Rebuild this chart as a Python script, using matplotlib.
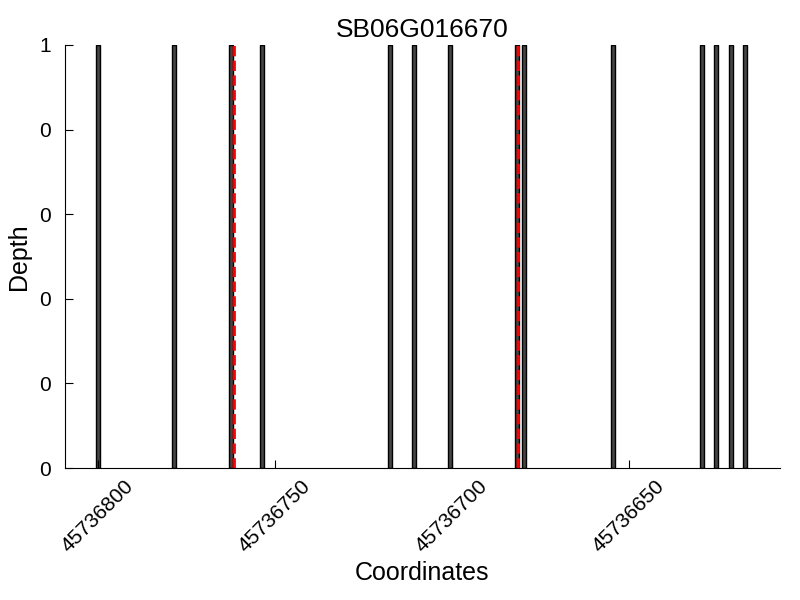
import numpy as np
import matplotlib
matplotlib.use("Agg")
import matplotlib.pyplot as plt
from matplotlib.ticker import FormatStrFormatter

plt.rcParams['font.family'] = ['Liberation Sans', 'DejaVu Sans']

# read positions (bp) of covered sites, all depth 1
positions = [45736800, 45736778.5, 45736762.4, 45736753.7, 45736717.5,
             45736710.7, 45736700.6, 45736681.6, 45736679.7, 45736654.5,
             45736629.4, 45736625.4, 45736621.2, 45736617.2]
depths = [1] * len(positions)
# marked sites (red dashed)
marks = [45736761.6, 45736681.3]
title = "SB06G016670"

fig = plt.figure(figsize=(8, 6), dpi=100)
ax = fig.add_axes([0.081, 0.22, 0.894, 0.705])

ax.bar(positions, depths, width=1.1, color='#454545', edgecolor='black', linewidth=1.0)
for m in marks:
    ax.axvline(m, color='red', linestyle='--', linewidth=2)

ax.set_xlim(45736809.3, 45736607.3)
ax.set_ylim(0, 1)
ax.set_xticks([45736800, 45736750, 45736700, 45736650])
ax.set_yticks(np.linspace(0, 1, 6))
ax.yaxis.set_major_formatter(FormatStrFormatter('%d'))
ax.xaxis.set_major_formatter(FormatStrFormatter('%d'))
ax.tick_params(direction='in', labelsize=15, length=6)
ax.tick_params(axis='y', pad=10)
ax.tick_params(axis='x', pad=6)
for lbl in ax.get_xticklabels():
    lbl.set_rotation(45)
    lbl.set_ha('center')

ax.spines['top'].set_visible(False)
ax.spines['right'].set_visible(False)

ax.set_title(title, fontsize=19)
ax.set_xlabel("Coordinates", fontsize=18)
ax.set_ylabel("Depth", fontsize=18, labelpad=6)

fig.savefig("out.png", dpi=100)
